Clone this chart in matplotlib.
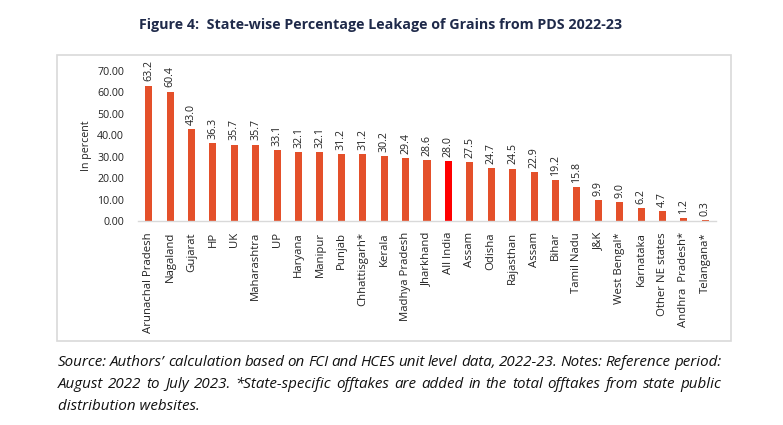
import matplotlib
matplotlib.use("Agg")
import matplotlib.pyplot as plt
from matplotlib.patches import Rectangle

categories = ["Arunachal Pradesh", "Nagaland", "Gujarat", "HP", "UK", "Maharashtra", "UP",
              "Haryana", "Manipur", "Punjab", "Chhattisgarh*", "Kerala", "Madhya Pradesh",
              "Jharkhand", "All India", "Assam", "Odisha", "Rajasthan", "Assam", "Bihar",
              "Tamil Nadu", "J&K", "West Bengal*", "Karnataka", "Other NE states",
              "Andhra  Pradesh*", "Telangana*"]
values = [63.2, 60.4, 43.0, 36.3, 35.7, 35.7, 33.1, 32.1, 32.1, 31.2, 31.2, 30.2, 29.4,
          28.6, 28.0, 27.5, 24.7, 24.5, 22.9, 19.2, 15.8, 9.9, 9.0, 6.2, 4.7, 1.2, 0.3]
highlight = "All India"
yticks = [0, 10, 20, 30, 40, 50, 60, 70]

title = "Figure 4:  State-wise Percentage Leakage of Grains from PDS 2022-23"
caption_lines = [
    "Source: Authors\u2019 calculation based on FCI and HCES unit level data, 2022-23. Notes: Reference period:",
    "August 2022 to July 2023. *State-specific offtakes are added in the total offtakes from state public",
    "distribution websites.",
]

W, H = 783, 425
fig = plt.figure(figsize=(W / 100, H / 100), dpi=100)
plt.rcParams['font.family'] = ['Open Sans', 'DejaVu Sans']

def fx(px):
    return px / W

def fy(py):
    return 1 - py / H

ax = fig.add_axes([fx(138), fy(221), fx(716) - fx(138), fy(71) - fy(221)])

colors = ["#FF0000" if c == highlight else "#E4502A" for c in categories]
x = list(range(len(categories)))
bars = ax.bar(x, values, width=0.33, color=colors, zorder=2)
for xi, v in zip(x, values):
    ax.annotate(f"{v:.1f}", (xi, v), xytext=(0, 3), textcoords="offset points",
                rotation=90, ha="center", va="bottom", fontsize=7.7, color="#222222",
                annotation_clip=False)

ax.set_xlim(-0.5, len(categories) - 0.5)
ax.set_ylim(0, 70)
ax.set_yticks(yticks)
ax.set_yticklabels([f"{t:.2f}" for t in yticks], fontsize=7.7, color="#222222")
ax.set_xticks(x)
ax.set_xticklabels(categories, rotation=90, fontsize=8.2, color="#222222")
ax.tick_params(axis="y", length=0, pad=10)
ax.tick_params(axis="x", length=0, pad=8)
for s in ["left", "right", "top"]:
    ax.spines[s].set_visible(False)
ax.spines["bottom"].set_color("#D9D9D9")
ax.spines["bottom"].set_linewidth(1)
ax.set_ylabel("In percent", fontsize=7.7, color="#222222", labelpad=4)
ax.patch.set_alpha(0)

fig.patches.append(Rectangle((fx(57), fy(341)), fx(731) - fx(57), fy(55) - fy(341),
                             transform=fig.transFigure, fill=False, edgecolor="#D9D9D9",
                             linewidth=1.2, zorder=0))

fig.text(0.486, fy(25), title, ha="center", va="center", fontsize=10.3,
         fontweight="bold", color="#1F2A4A")

# justified caption
renderer = fig.canvas.get_renderer()
left_px, right_px = 58, 721
cap_fs = 10.9
for i, line in enumerate(caption_lines):
    ypos = fy(363 + 21.5 * i)
    words = line.split(" ")
    if i == len(caption_lines) - 1:
        fig.text(fx(left_px), ypos, line, ha="left", va="center", fontsize=cap_fs,
                 style="italic", color="#111111")
        continue
    texts = [fig.text(0, ypos, w, ha="left", va="center", fontsize=cap_fs,
                      style="italic", color="#111111") for w in words]
    widths = [t.get_window_extent(renderer).width for t in texts]
    gap = (right_px - left_px - sum(widths)) / (len(words) - 1)
    cur = left_px
    for t, w in zip(texts, widths):
        t.set_x(fx(cur))
        cur += w + gap

fig.savefig("out.png", dpi=100)
